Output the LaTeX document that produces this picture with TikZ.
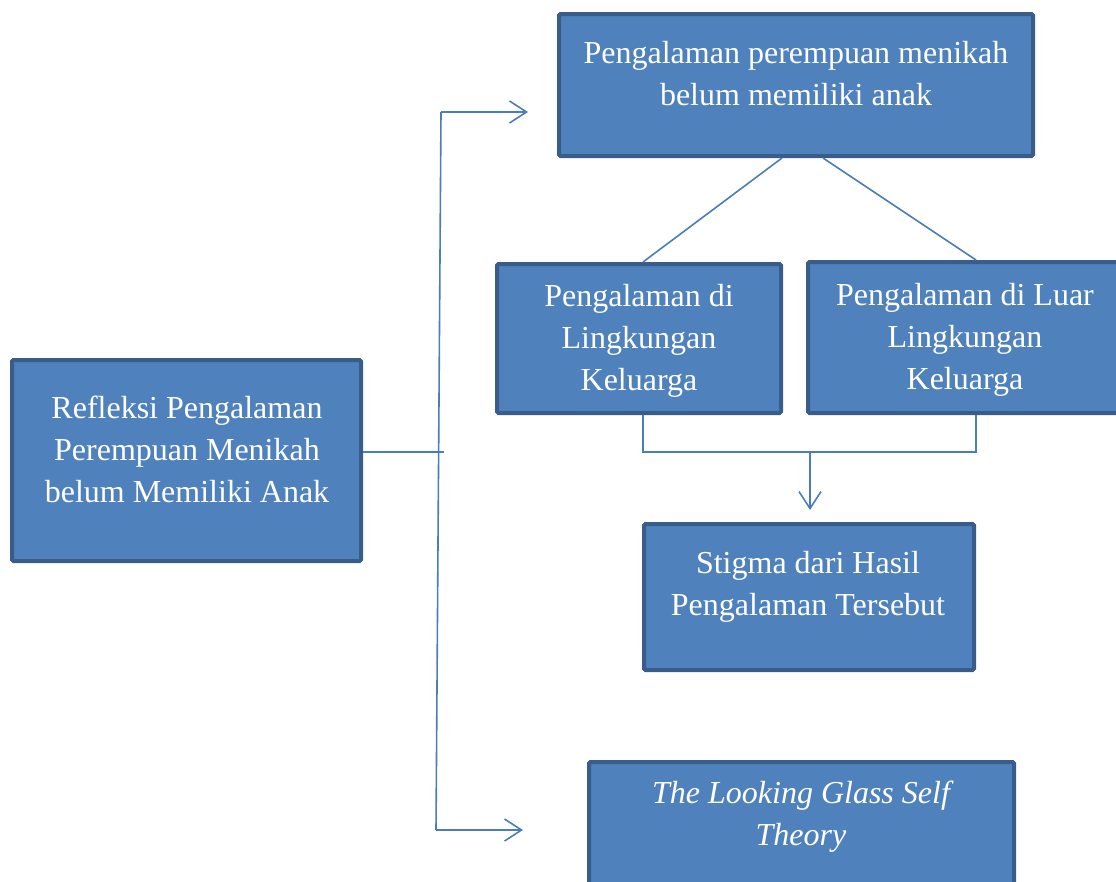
\documentclass[tikz,border=0pt]{standalone}
\usepackage{fontspec}
\setmainfont{Liberation Serif}
\usetikzlibrary{arrows.meta,calc}
\definecolor{boxfill}{HTML}{4F81BD}
\definecolor{boxborder}{HTML}{385D8A}
\definecolor{linecol}{HTML}{4A7EBB}
\begin{document}
\begin{tikzpicture}[x=1pt,y=-1pt,
  box/.style={draw=boxborder, line width=4pt, fill=boxfill, rounded corners=1.5pt, inner sep=0pt},
  txt/.style={text=white, align=center, font=\fontsize{32}{42}\selectfont, inner sep=0pt},
  conn/.style={draw=linecol, line width=1.6pt},
  arr/.style={conn, -{Straight Barb[length=17pt,width=22pt,line width=1.6pt]}}]
\useasboundingbox (0,0) rectangle (1116,881);
% boxes
\node[box, minimum width=474pt, minimum height=142pt] (top) at (796,85) {};
\node[box, minimum width=284pt, minimum height=149pt] (lk) at (639,338.5) {};
\node[box, minimum width=314pt, minimum height=151pt] (lu) at (965,337.5) {};
\node[box, minimum width=349pt, minimum height=201pt] (refl) at (186.5,460.5) {};
\node[box, minimum width=330pt, minimum height=146pt] (stig) at (809,597) {};
\node[box, minimum width=425pt, minimum height=160pt] (theo) at (801.5,842) {};
% texts
\node[txt] (ttop) at (796,74) {Pengalaman perempuan menikah\\belum memiliki anak};
\node[txt] (tlk) at (639,341) {Pengalaman di\\Lingkungan\\Keluarga};
\node[txt] (tlu) at (965,340) {Pengalaman di Luar\\Lingkungan\\Keluarga};
\node[txt] (trefl) at (187,449) {Refleksi Pengalaman\\Perempuan Menikah\\belum Memiliki Anak};
\node[txt] (tstig) at (808,587) {Stigma dari Hasil\\Pengalaman Tersebut};
\node[txt, font=\fontsize{32}{42}\selectfont\itshape] (ttheo) at (801,817) {The Looking Glass Self\\Theory};
% connector points
\coordinate (t1) at ($(top.south)+(-14,0)$);
\coordinate (t2) at ($(top.south)+(27,0)$);
\coordinate (l1) at ($(lk.north)+(4,0)$);
\coordinate (r1) at ($(lu.north)+(11,0)$);
\coordinate (lb) at ($(lk.south)+(4,0)$);
\coordinate (rb) at ($(lu.south)+(11,0)$);
\coordinate (mid) at (810,452);
\coordinate (tip) at ($(stig.north)+(1,-12)$);
\coordinate (vtop) at (441,112);
\coordinate (vbot) at (436,830);
\coordinate (j) at (443.5,452);
\coordinate (a1) at (528,112);
\coordinate (a2) at (523,830);
\draw[conn] (t1) -- (l1);
\draw[conn] (t2) -- (r1);
\draw[conn] (lb) |- (mid) -| (rb);
\draw[arr] (mid) -- (tip);
\draw[conn] (refl.east |- j) -- (j);
\draw[arr] (vtop) -- (a1);
\draw[conn] (vtop) -- (vbot);
\draw[arr] (vbot) -- (a2);
\end{tikzpicture}
\end{document}
